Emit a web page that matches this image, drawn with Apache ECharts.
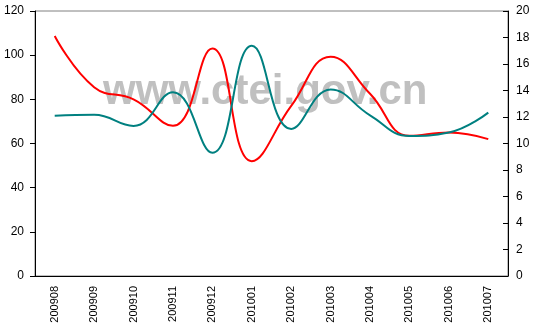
<!DOCTYPE html>
<html>
<head>
<meta charset="utf-8">
<script src="https://cdn.jsdelivr.net/npm/echarts@6/dist/echarts.min.js"></script>
<style>html,body{margin:0;padding:0;background:#fff}#c{width:536px;height:326px}</style>
</head>
<body>
<div id="c"></div>
<script>
var categories = ['200908','200909','200910','200911','200912','201001','201002','201003','201004','201005','201006','201007'];
var redValues = [108.7, 85.5, 80, 68, 103, 52, 77, 99.3, 82.5, 63.5, 65, 62];
var tealValues = [12.1, 12.17, 11.33, 13.87, 9.3, 17.38, 11.1, 14.08, 12.13, 10.57, 10.83, 12.33];
var leftTicks = {min: 0, max: 120, interval: 20};
var rightTicks = {min: 0, max: 20, interval: 2};
var watermark = 'www.ctei.gov.cn';

var chart = echarts.init(document.getElementById('c'), null, {renderer: 'canvas'});
var font = 'Liberation Sans, Arial, sans-serif';
chart.setOption({
  animation: false,
  backgroundColor: '#fff',
  grid: {left: 35, right: 28, top: 11, bottom: 50, show: true, borderColor: '#808080', borderWidth: 1, backgroundColor: 'transparent'},
  graphic: [{
    type: 'text', left: 103, top: 71, z: -1, silent: true,
    style: {text: watermark, font: 'bold 42px Liberation Sans, Arial, sans-serif', fill: '#c0c0c0'}
  }],
  xAxis: {
    type: 'category', data: categories, boundaryGap: true,
    axisLine: {lineStyle: {color: '#000', width: 1}},
    axisTick: {inside: true, length: 4, lineStyle: {color: '#000'}},
    axisLabel: {rotate: 90, margin: 10, fontSize: 11, color: '#000', fontFamily: font, interval: 0},
    splitLine: {show: false}
  },
  yAxis: [{
    type: 'value', min: leftTicks.min, max: leftTicks.max, interval: leftTicks.interval,
    axisLine: {show: true, lineStyle: {color: '#000'}},
    axisTick: {show: true, length: 5, lineStyle: {color: '#000'}},
    axisLabel: {margin: 11, fontSize: 12, color: '#000', fontFamily: font},
    splitLine: {show: false}
  }, {
    type: 'value', position: 'right', min: rightTicks.min, max: rightTicks.max, interval: rightTicks.interval,
    axisLine: {show: true, lineStyle: {color: '#000'}},
    axisTick: {show: true, inside: true, length: 5, lineStyle: {color: '#000'}},
    axisLabel: {margin: 8, fontSize: 12, color: '#000', fontFamily: font},
    splitLine: {show: false}
  }],
  series: [{
    type: 'line', data: redValues, yAxisIndex: 0, smooth: 0.45, symbol: 'none',
    lineStyle: {color: '#ff0000', width: 2}, z: 3
  }, {
    type: 'line', data: tealValues, yAxisIndex: 1, smooth: 0.45, symbol: 'none',
    lineStyle: {color: '#008080', width: 2}, z: 3
  }]
});
</script>
</body>
</html>
